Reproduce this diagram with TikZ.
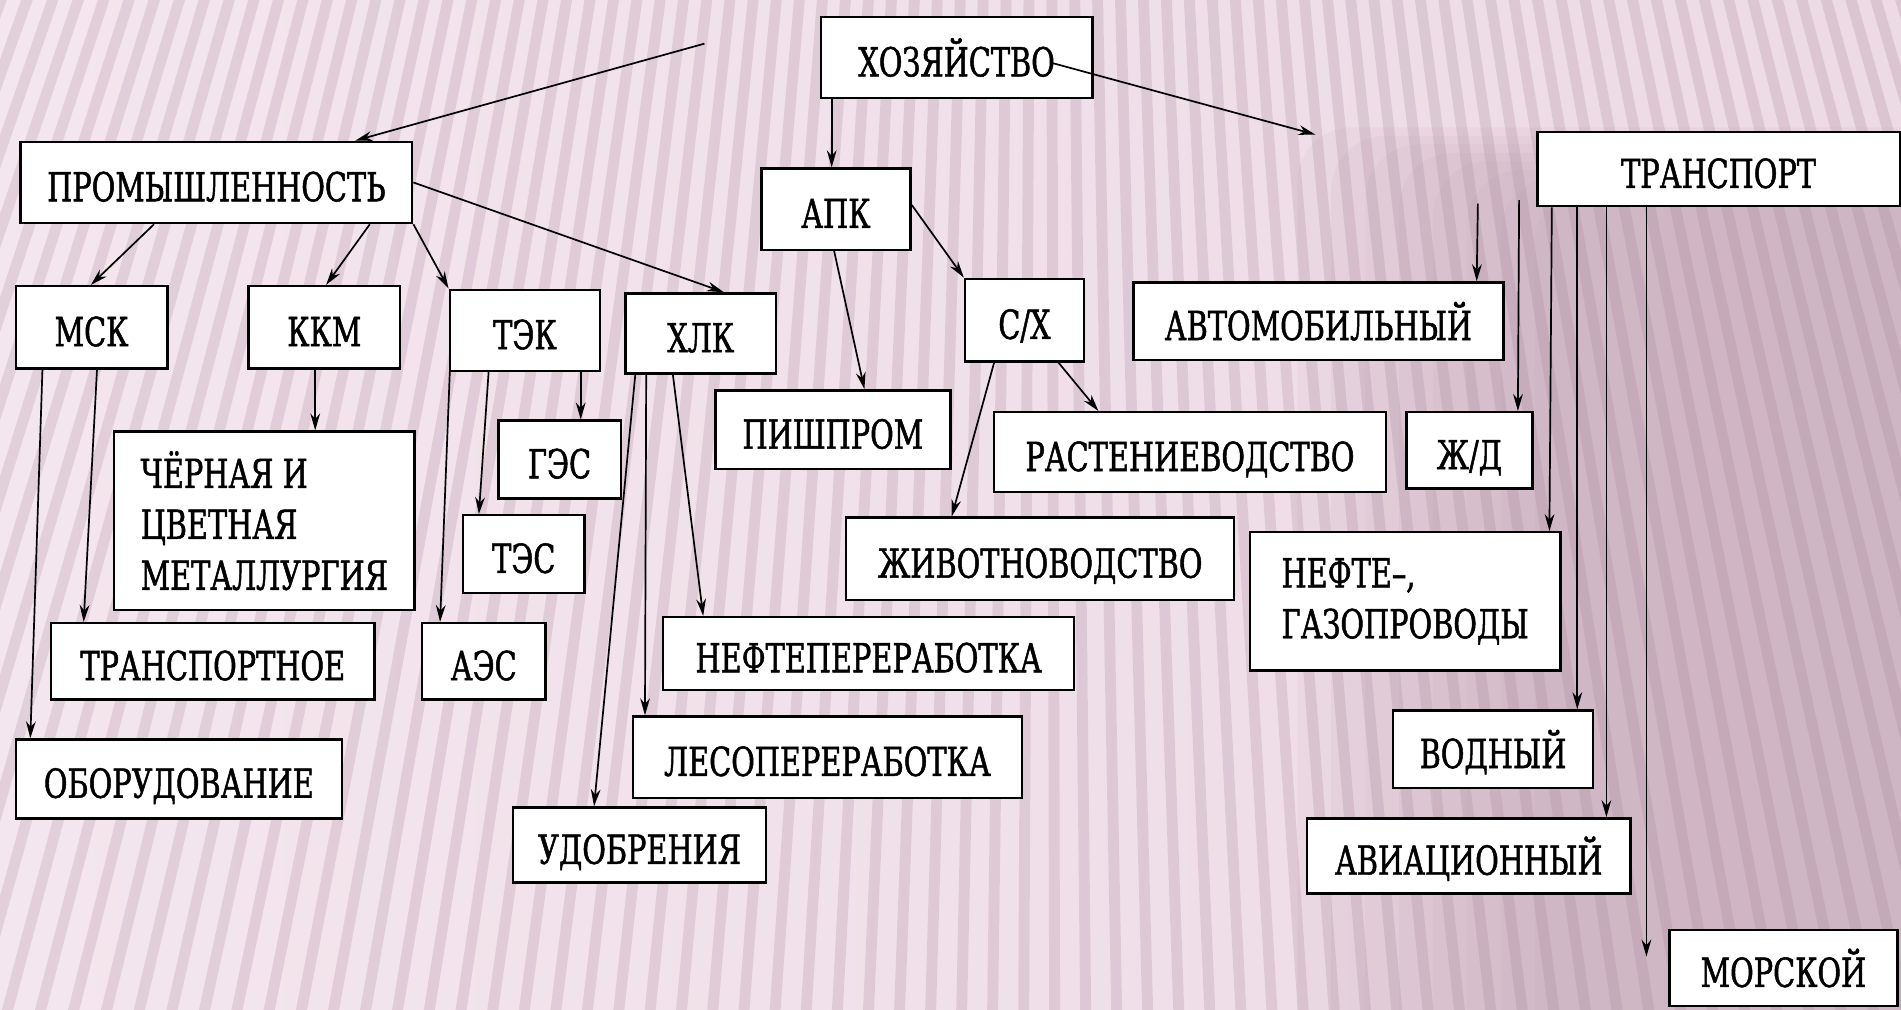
\documentclass[tikz,border=0pt]{standalone}
\usepackage{fontspec}
\setmainfont{DejaVu Serif}[FakeStretch=0.72,FakeBold=1.2]
\usetikzlibrary{arrows.meta}
\definecolor{bgA}{HTML}{F4E6EE}
\definecolor{bgB}{HTML}{ECDAE4}
\definecolor{bgDark}{HTML}{BFA0B2}
\definecolor{stripec}{HTML}{A07E92}
\begin{document}
\begin{tikzpicture}[x=1pt,y=-1pt,
  box/.style={draw=black, fill=white, line width=2pt, inner sep=0pt,
              font=\fontsize{33}{42}\selectfont},
  sbox/.style={box, text height=31pt, text depth=0pt},
  mbox/.style={box, align=left},
  ln/.style={line width=1.4pt, draw=black},
  arr/.style={ln, -{Stealth[length=14pt,width=8pt]}},
  stripe/.style={line width=9pt, draw=stripec, draw opacity=0.22},
  shadow/.style={fill=bgDark, fill opacity=0.1, rounded corners=45pt}]
\useasboundingbox (0,0) rectangle (1568,833);
% background
\begin{scope}
\clip (0,0) rectangle (1568,833);
\shade[left color=bgA, right color=bgB] (0,0) rectangle (1568,833);
\foreach \i in {0,...,7} {
  \fill[shadow] ({1070+28*\i},{105+7*\i}) rectangle (1650,900);
}
\foreach \i in {0,...,84} {
  \pgfmathsetmacro\a{-21+0.46*\i}
  \draw[stripe] (861,-2353) -- ({861+3600*sin(\a)},{-2353+3600*cos(\a)});
}
\end{scope}
% nodes
\node[sbox, minimum width=224pt, minimum height=67pt] (hoz) at (789,47.5) {ХОЗЯЙСТВО};
\node[sbox, minimum width=323pt, minimum height=67pt] (prom) at (178.5,150.5) {ПРОМЫШЛЕННОСТЬ};
\node[sbox, minimum width=123pt, minimum height=67pt] (apk) at (689.5,172.5) {АПК};
\node[sbox, minimum width=299pt, minimum height=61pt] (tr) at (1417.5,139.5) {ТРАНСПОРТ};
\node[sbox, minimum width=125pt, minimum height=68pt] (msk) at (75.5,270) {МСК};
\node[sbox, minimum width=125pt, minimum height=68pt] (kkm) at (267.5,270) {ККМ};
\node[sbox, minimum width=124pt, minimum height=67pt] (tek) at (433,272.5) {ТЭК};
\node[sbox, minimum width=124pt, minimum height=66pt] (xlk) at (578,275) {ХЛК};
\node[sbox, minimum width=98pt, minimum height=68pt] (sx) at (845,264) {С/Х};
\node[sbox, minimum width=305pt, minimum height=64pt] (avto) at (1087.5,265) {АВТОМОБИЛЬНЫЙ};
\node[mbox, minimum width=248pt, minimum height=147pt] (chm) at (218,429.5) {ЧЁРНАЯ И\\ЦВЕТНАЯ\\МЕТАЛЛУРГИЯ};
\node[sbox, minimum width=101pt, minimum height=64pt] (ges) at (461.5,379) {ГЭС};
\node[sbox, minimum width=100pt, minimum height=64pt] (tes) at (432,457) {ТЭС};
\node[sbox, minimum width=267pt, minimum height=63pt] (trm) at (175.5,545.5) {ТРАНСПОРТНОЕ};
\node[sbox, minimum width=102pt, minimum height=63pt] (aes) at (399,545.5) {АЭС};
\node[sbox, minimum width=269pt, minimum height=65pt] (obo) at (147.5,642.5) {ОБОРУДОВАНИЕ};
\node[sbox, minimum width=194pt, minimum height=65pt] (pish) at (687,354.5) {ПИШПРОМ};
\node[sbox, minimum width=323pt, minimum height=66pt] (rast) at (981.5,373) {РАСТЕНИЕВОДСТВО};
\node[sbox, minimum width=320pt, minimum height=68pt] (zhiv) at (858,461) {ЖИВОТНОВОДСТВО};
\node[sbox, minimum width=339pt, minimum height=60pt] (nper) at (716.5,539) {НЕФТЕПЕРЕРАБОТКА};
\node[sbox, minimum width=321pt, minimum height=67pt] (leso) at (682.5,624.5) {ЛЕСОПЕРЕРАБОТКА};
\node[sbox, minimum width=209pt, minimum height=62pt] (udo) at (527.5,697) {УДОБРЕНИЯ};
\node[sbox, minimum width=104pt, minimum height=63pt] (zhd) at (1212,371.5) {Ж/Д};
\node[mbox, minimum width=256pt, minimum height=114pt] (ngaz) at (1159,496) {НЕФТЕ–,\\ГАЗОПРОВОДЫ};
\node[sbox, minimum width=165pt, minimum height=64pt] (vod) at (1231.5,618) {ВОДНЫЙ};
\node[sbox, minimum width=267pt, minimum height=62pt] (avia) at (1211.5,706) {АВИАЦИОННЫЙ};
\node[sbox, minimum width=188pt, minimum height=63pt] (mor) at (1471,798.5) {МОРСКОЙ};
% free ends
\coordinate (hozL) at (581,36);
\coordinate (hozR) at (1085,111);
\coordinate (avtoTop) at (1219,168);
\coordinate (zhdTop) at (1253,165);
% connectors
\draw[arr] (hozL) -- ([xshift=277pt]prom.north west);
\draw[arr] ([shift={(79,4.5)}]hoz.center) -- (hozR);
\draw[arr] ([xshift=10pt]hoz.south west) -- ([xshift=59pt]apk.north west);
\draw[arr] ([xshift=111pt]prom.south west) -- ([xshift=63pt]msk.north west);
\draw[arr] ([xshift=289pt]prom.south west) -- ([xshift=65pt]kkm.north west);
\draw[arr] (prom.south east) -- (tek.north west);
\draw[arr] (prom.east) -- ([xshift=82pt]xlk.north west);
\draw[arr] ([xshift=23pt]msk.south west) -- ([xshift=13pt]obo.north west);
\draw[arr] ([xshift=68pt]msk.south west) -- ([xshift=28pt]trm.north west);
\draw[arr] ([xshift=56pt]kkm.south west) -- ([xshift=167pt]chm.north west);
\draw[arr] ([xshift=1pt]tek.south west) -- ([xshift=16pt]aes.north west);
\draw[arr] ([xshift=33pt]tek.south west) -- ([xshift=14pt]tes.north west);
\draw[arr] ([xshift=109pt]tek.south west) -- ([xshift=69pt]ges.north west);
\draw[arr] ([xshift=9pt]xlk.south west) -- ([xshift=68pt]udo.north west);
\draw[arr] ([xshift=18pt]xlk.south west) -- ([xshift=11pt]leso.north west);
\draw[arr] ([xshift=40pt]xlk.south west) -- ([xshift=34pt]nper.north west);
\draw[arr] ([xshift=61pt]apk.south west) -- ([xshift=124pt]pish.north west);
\draw[arr] ([yshift=3.5pt]apk.east) -- (sx.north west);
\draw[arr] ([xshift=25pt]sx.south west) -- ([xshift=88pt]zhiv.north west);
\draw[arr] ([xshift=78pt]sx.south west) -- ([xshift=87pt]rast.north west);
\draw[arr] (avtoTop) -- ([xshift=284pt]avto.north west);
\draw[arr] (zhdTop) -- ([xshift=93pt]zhd.north west);
\draw[arr] ([xshift=13pt]tr.south west) -- ([xshift=248pt]ngaz.north west);
\draw[arr] ([xshift=34pt]tr.south west) -- ([xshift=153pt]vod.north west);
\draw[arr] ([xshift=58pt]tr.south west) -- ([xshift=248pt]avia.north west);
\draw[arr] ([xshift=91pt]tr.south west) -- ([shift={(-18,-9.5)}]mor.west);
\end{tikzpicture}
\end{document}
